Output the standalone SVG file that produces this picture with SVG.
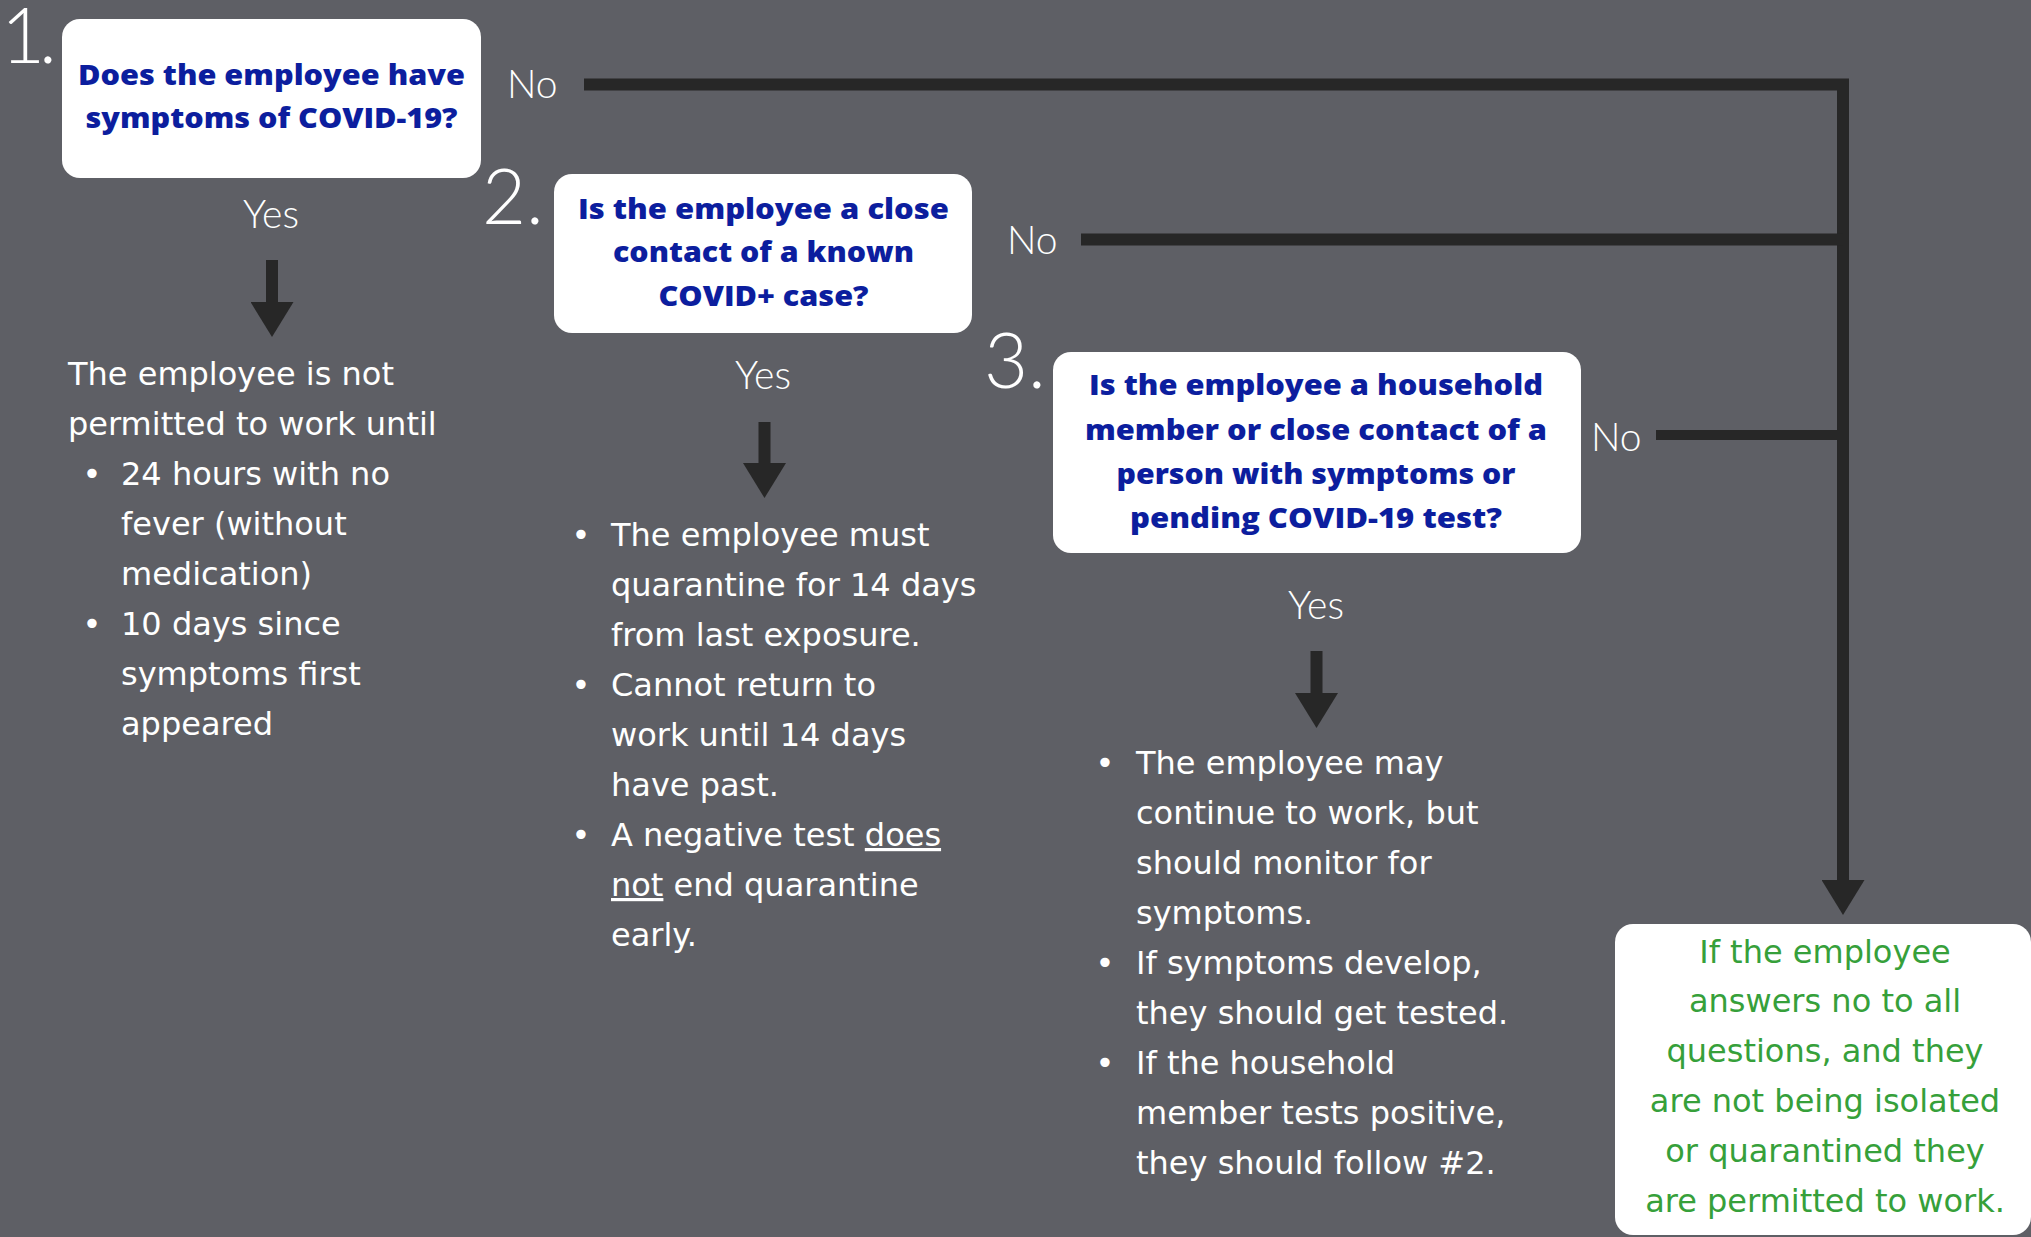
<svg xmlns="http://www.w3.org/2000/svg" width="2031" height="1237" viewBox="0 0 2031 1237">
<style>
.box{fill:#ffffff}
.q{font-family:"Open Sans","DejaVu Sans",sans-serif;font-weight:800;font-size:28px;fill:#0c1e9e;text-anchor:middle}
.body{font-family:"DejaVu Sans",sans-serif;font-size:32px;fill:#ffffff}
.green{font-family:"DejaVu Sans",sans-serif;font-size:32px;fill:#36a03a;text-anchor:middle}
.lbl{font-family:"Lato","Open Sans",sans-serif;font-weight:300;font-size:39px;fill:#ffffff}
.num{font-family:"Lato","Open Sans",sans-serif;font-weight:300;font-size:76px;fill:#ffffff}
.bul{text-anchor:middle}
.con{fill:none;stroke:#272727;stroke-width:12}
</style>
<defs>
<marker id="ah" markerUnits="userSpaceOnUse" viewBox="0 0 35 43" markerWidth="35" markerHeight="43" refX="0" refY="21.5" orient="auto">
<path d="M0,0 L35,21.5 L0,43 Z" fill="#272727"/>
</marker>
</defs>
<rect width="2031" height="1237" fill="#5e5f65"/>

<g id="connectors">
<path class="con" d="M584,84.5 H1843 V880" marker-end="url(#ah)"/>
<path class="con" d="M1081,239.5 H1843"/>
<path class="con" style="stroke-width:10" d="M1656,435 H1843"/>
<path class="con" d="M272,260 V302" marker-end="url(#ah)"/>
<path class="con" d="M764.5,422 V463" marker-end="url(#ah)"/>
<path class="con" d="M1316.5,651 V693" marker-end="url(#ah)"/>
<text class="lbl" x="507" y="98">No</text>
<text class="lbl" x="1007" y="254">No</text>
<text class="lbl" x="1591" y="451">No</text>
<text class="lbl" x="271" y="228" text-anchor="middle">Yes</text>
<text class="lbl" x="763" y="389" text-anchor="middle">Yes</text>
<text class="lbl" x="1316" y="619" text-anchor="middle">Yes</text>
</g>

<g id="q1">
<rect class="box" x="62" y="19" width="419" height="159" rx="18"/>
<text class="num" x="1" y="63" font-size="74" letter-spacing="-6">1.</text>
<text class="q" x="271.5" y="85" textLength="387" lengthAdjust="spacingAndGlyphs">Does the employee have</text>
<text class="q" x="271.5" y="128" textLength="372" lengthAdjust="spacingAndGlyphs">symptoms of COVID-19?</text>
</g>

<g id="q2">
<text class="num" x="482" y="224">2.</text>
<rect class="box" x="554" y="174" width="418" height="159" rx="18"/>
<text class="q" x="763.5" y="219" textLength="371" lengthAdjust="spacingAndGlyphs">Is the employee a close</text>
<text class="q" x="763.5" y="262" textLength="301" lengthAdjust="spacingAndGlyphs">contact of a known</text>
<text class="q" x="763.5" y="306" textLength="210" lengthAdjust="spacingAndGlyphs">COVID+ case?</text>
</g>

<g id="q3">
<text class="num" x="984" y="388">3.</text>
<rect class="box" x="1053" y="352" width="528" height="201" rx="18"/>
<text class="q" x="1316" y="395" textLength="454" lengthAdjust="spacingAndGlyphs">Is the employee a household</text>
<text class="q" x="1316" y="440" textLength="462" lengthAdjust="spacingAndGlyphs">member or close contact of a</text>
<text class="q" x="1316" y="484" textLength="399" lengthAdjust="spacingAndGlyphs">person with symptoms or</text>
<text class="q" x="1316" y="528" textLength="372" lengthAdjust="spacingAndGlyphs">pending COVID-19 test?</text>
</g>

<g id="r1">
<text class="body" x="68" y="385">The employee is not</text>
<text class="body" x="68" y="435">permitted to work until</text>
<text class="body bul" x="92" y="485">•</text>
<text class="body" x="121" y="485">24 hours with no</text>
<text class="body" x="121" y="535">fever (without</text>
<text class="body" x="121" y="585">medication)</text>
<text class="body bul" x="92" y="635">•</text>
<text class="body" x="121" y="635">10 days since</text>
<text class="body" x="121" y="685">symptoms first</text>
<text class="body" x="121" y="735">appeared</text>
</g>

<g id="r2">
<text class="body bul" x="581" y="546">•</text>
<text class="body" x="611" y="546">The employee must</text>
<text class="body" x="611" y="596">quarantine for 14 days</text>
<text class="body" x="611" y="646">from last exposure.</text>
<text class="body bul" x="581" y="696">•</text>
<text class="body" x="611" y="696">Cannot return to</text>
<text class="body" x="611" y="746">work until 14 days</text>
<text class="body" x="611" y="796">have past.</text>
<text class="body bul" x="581" y="846">•</text>
<text class="body" x="611" y="846">A negative test <tspan text-decoration="underline">does</tspan></text>
<text class="body" x="611" y="896"><tspan text-decoration="underline">not</tspan> end quarantine</text>
<text class="body" x="611" y="946">early.</text>
</g>

<g id="r3">
<text class="body bul" x="1105" y="774">•</text>
<text class="body" x="1136" y="774">The employee may</text>
<text class="body" x="1136" y="824">continue to work, but</text>
<text class="body" x="1136" y="874">should monitor for</text>
<text class="body" x="1136" y="924">symptoms.</text>
<text class="body bul" x="1105" y="974">•</text>
<text class="body" x="1136" y="974">If symptoms develop,</text>
<text class="body" x="1136" y="1024">they should get tested.</text>
<text class="body bul" x="1105" y="1074">•</text>
<text class="body" x="1136" y="1074">If the household</text>
<text class="body" x="1136" y="1124">member tests positive,</text>
<text class="body" x="1136" y="1174">they should follow #2.</text>
</g>

<g id="final">
<rect class="box" x="1615" y="924" width="416" height="311" rx="18"/>
<text class="green" x="1825" y="963">If the employee</text>
<text class="green" x="1825" y="1012">answers no to all</text>
<text class="green" x="1825" y="1062">questions, and they</text>
<text class="green" x="1825" y="1112">are not being isolated</text>
<text class="green" x="1825" y="1162">or quarantined they</text>
<text class="green" x="1825" y="1212">are permitted to work.</text>
</g>
</svg>
